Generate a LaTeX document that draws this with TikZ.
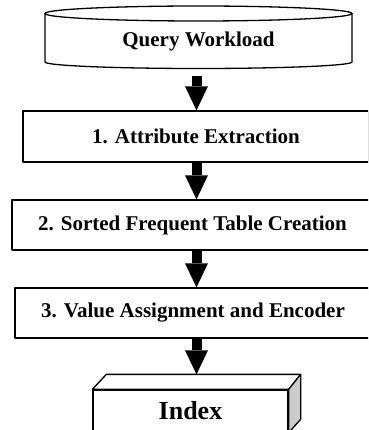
\documentclass[tikz,border=0pt]{standalone}
\usepackage{fontspec}
\setmainfont{Liberation Serif}
\usetikzlibrary{arrows.meta,calc}
\begin{document}
\begin{tikzpicture}[x=1pt,y=-1pt,
  outline/.style={line width=1.3pt,line join=round},
  stage/.style={draw,outline,rectangle,inner sep=0pt,
    font=\fontsize{21}{25}\selectfont\bfseries},
  flow/.style={line width=10pt,
    -{Triangle[width=23pt,length=24pt,line width=0pt]}},
  sideface/.style={fill=black!20},
]
\useasboundingbox (0,0) rectangle (368,430);
\clip (0,0) rectangle (368,430);

% column through which the flow arrows run
\coordinate (ax) at (196.5,0);

% query workload store (cylinder)
\draw[outline,fill=white] (45,13.5) -- (45,62)
  arc[start angle=180,end angle=0,x radius=153.5,y radius=6.5]
  -- (352,13.5);
\draw[outline] (198.5,13.5) ellipse[x radius=153.5,y radius=7.5];
\node[font=\fontsize{21}{25}\selectfont\bfseries,inner sep=0pt,
      minimum height=60.6pt] (qw) at (198.5,41.7) {Query Workload};

% processing stages
\node[stage,minimum width=346pt,minimum height=51pt] (s1) at (196,136.5)
  {1. Attribute Extraction};
\node[stage,minimum width=361pt,minimum height=50pt] (s2) at (192.5,225)
  {2. Sorted Frequent Table Creation};
\node[stage,minimum width=356pt,minimum height=50pt] (s3) at (193,313)
  {3. Value Assignment and Encoder};

% index block (box drawn in perspective)
\node[draw,outline,inner sep=0pt,minimum width=195pt,minimum height=42pt,
      font=\fontsize{26}{30}\selectfont\bfseries] (idx) at (190.5,411) {Index};
\coordinate (idxbl) at ($(idx.north west)+(14,-15)$);
\coordinate (idxbr) at ($(idx.north east)+(12,-15)$);
\draw[outline,fill=white] (idx.north west) -- (idxbl) -- (idxbr)
  -- (idx.north east) -- cycle;
\draw[outline,sideface] (idx.north east) -- (idxbr)
  -- ($(idxbr)+(0,45)$) -- (idx.south east) -- cycle;

% flow arrows
\draw[flow,shorten <=4pt] (qw.south -| ax) -- (s1.north -| ax);
\draw[flow] (s1.south -| ax) -- (s2.north -| ax);
\draw[flow] (s2.south -| ax) -- (s3.north -| ax);
\draw[flow] (s3.south -| ax) -- (idxbl -| ax);
\end{tikzpicture}
\end{document}
